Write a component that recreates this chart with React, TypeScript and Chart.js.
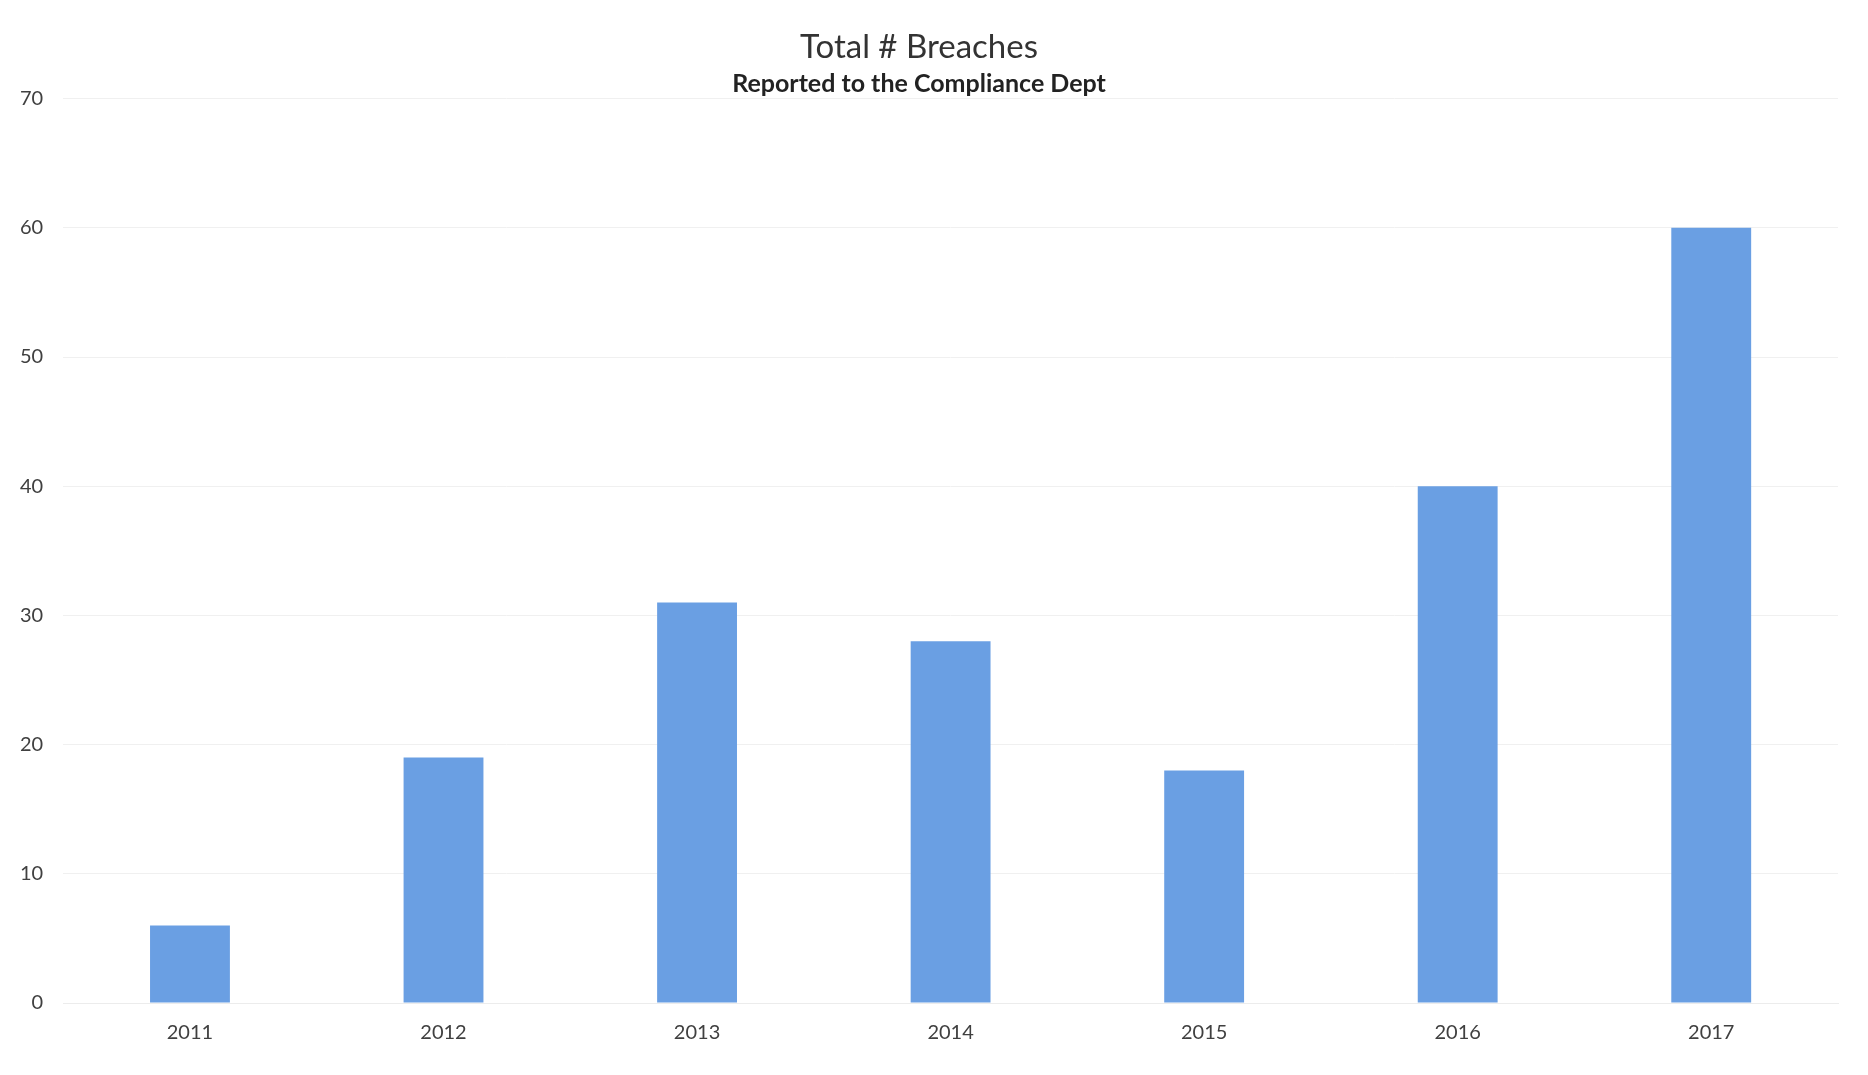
import React, { useEffect, useRef } from "react";
import { Chart, registerables } from "chart.js";

Chart.register(...registerables);

const categories = ["2011", "2012", "2013", "2014", "2015", "2016", "2017"];
const breaches = [6, 19, 31, 28, 18, 40, 60];
const titleText = "Total # Breaches";
const subtitleText = "Reported to the Compliance Dept";

export default function App() {
  const ref = useRef<HTMLCanvasElement | null>(null);

  useEffect(() => {
    if (!ref.current) return;
    const chart = new Chart(ref.current, {
      type: "bar",
      data: {
        labels: categories,
        datasets: [
          {
            label: "Breaches",
            data: breaches,
            backgroundColor: "#6a9fe3",
            barPercentage: 0.315,
            categoryPercentage: 1,
          },
        ],
      },
      options: {
        animation: false,
        responsive: true,
        maintainAspectRatio: false,
        layout: { padding: { left: 0, right: 30, top: 0, bottom: 12 } },
        plugins: {
          legend: { display: false },
          tooltip: { enabled: false },
          title: {
            display: true,
            text: titleText,
            color: "#333333",
            font: { family: "Lato", size: 33, weight: "normal" },
            padding: { top: 28, bottom: 0 },
          },
          subtitle: {
            display: true,
            text: subtitleText,
            color: "#222222",
            font: { family: "Lato", size: 25, weight: "bold" },
            padding: { top: 1, bottom: 0 },
          },
        },
        scales: {
          x: {
            grid: { display: false, drawTicks: false },
            border: { display: true, color: "#ececec" },
            ticks: {
              color: "#404040",
              font: { family: "Lato", size: 20 },
              padding: 18,
            },
          },
          y: {
            min: 0,
            max: 70,
            grid: { color: "#f0f0f0", drawTicks: false },
            border: { display: false },
            ticks: {
              stepSize: 10,
              color: "#404040",
              font: { family: "Lato", size: 20 },
              padding: 20,
            },
          },
        },
      },
    });
    return () => chart.destroy();
  }, []);

  return (
    <div style={{ position: "absolute", left: 0, top: 0, width: 1868, height: 1075, background: "#ffffff" }}>
      <canvas ref={ref} />
    </div>
  );
}
